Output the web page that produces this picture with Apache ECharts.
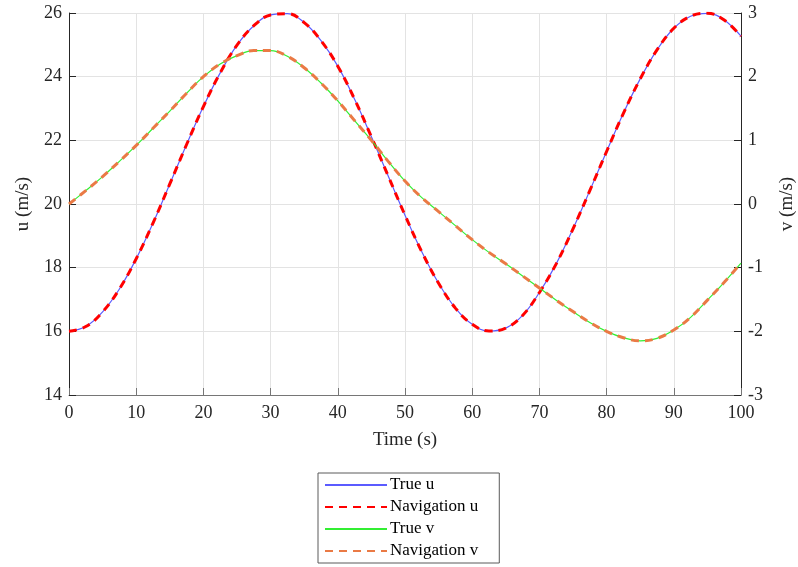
<!DOCTYPE html>
<html>
<head>
<meta charset="utf-8">
<script src="https://cdn.jsdelivr.net/npm/echarts@6/dist/echarts.min.js"></script>
<style>html,body{margin:0;padding:0;background:#fff;}#c{width:798px;height:567px;}</style>
</head>
<body>
<div id="c"></div>
<script>
// Time samples (s)
const time = [0,2.5,5,7.5,10,12.5,15,17.5,20,22.5,25,27.5,30,32.5,35,37.5,40,42.5,45,47.5,50,52.5,55,57.5,60,62.5,65,67.5,70,72.5,75,77.5,80,82.5,85,87.5,90,92.5,95,97.5,100];
// u (m/s)
const trueU = [16.00,16.15,16.61,17.33,18.28,19.40,20.63,21.87,23.06,24.12,24.99,25.60,25.94,25.98,25.70,25.13,24.33,23.29,22.11,20.88,19.65,18.50,17.51,16.73,16.22,16.01,16.10,16.50,17.22,18.12,19.22,20.42,21.65,22.85,23.93,24.84,25.52,25.90,25.99,25.78,25.27];
const navU = [16.00,16.15,16.61,17.33,18.28,19.40,20.63,21.87,23.06,24.12,24.99,25.60,25.94,25.98,25.70,25.13,24.33,23.29,22.11,20.88,19.65,18.50,17.51,16.73,16.22,16.01,16.10,16.50,17.22,18.12,19.22,20.42,21.65,22.85,23.93,24.84,25.52,25.90,25.99,25.78,25.27];
// v (m/s)
const trueV = [0.00,0.21,0.43,0.67,0.92,1.19,1.46,1.74,2.00,2.20,2.33,2.41,2.41,2.32,2.14,1.90,1.62,1.31,1.00,0.67,0.36,0.10,-0.12,-0.34,-0.56,-0.76,-0.94,-1.13,-1.32,-1.51,-1.69,-1.86,-2.00,-2.10,-2.15,-2.11,-1.98,-1.78,-1.51,-1.23,-0.93];
const navV = [0.00,0.21,0.43,0.67,0.92,1.19,1.46,1.74,2.00,2.20,2.33,2.41,2.41,2.32,2.14,1.90,1.62,1.31,1.00,0.67,0.36,0.10,-0.12,-0.34,-0.56,-0.76,-0.94,-1.13,-1.32,-1.51,-1.69,-1.86,-2.00,-2.10,-2.15,-2.11,-1.98,-1.78,-1.51,-1.23,-0.93];
const seriesNames = ['True u','Navigation u','True v','Navigation v'];

const pairs = (xs, ys) => xs.map((x, i) => [x, ys[i]]);
const font = 'Liberation Serif';
const tickColor = '#262626';

const chart = echarts.init(document.getElementById('c'), null, {renderer: 'canvas'});
chart.setOption({
  animation: false,
  backgroundColor: '#ffffff',
  grid: {left: 69, right: 57, top: 13, bottom: 172, containLabel: false, outerBoundsMode: 'none'},
  xAxis: {
    type: 'value', min: 0, max: 100, interval: 10,
    name: 'Time (s)', nameLocation: 'middle', nameGap: 36,
    nameTextStyle: {fontFamily: font, fontSize: 19, color: tickColor},
    axisLine: {show: true, onZero: false, lineStyle: {color: '#767676', width: 1}},
    axisTick: {show: true, inside: true, length: 7, lineStyle: {color: '#767676'}},
    axisLabel: {fontFamily: font, fontSize: 18, color: tickColor, margin: 9},
    splitLine: {show: true, lineStyle: {color: '#e3e3e3', width: 1}}
  },
  yAxis: [{
    type: 'value', position: 'left', min: 14, max: 26, interval: 2,
    name: 'u (m/s)', nameLocation: 'middle', nameGap: 36, nameRotate: 90,
    nameTextStyle: {fontFamily: font, fontSize: 19, color: tickColor},
    axisLine: {show: true, onZero: false, lineStyle: {color: '#262626', width: 1}},
    axisTick: {show: true, inside: true, length: 7, lineStyle: {color: '#262626'}},
    axisLabel: {fontFamily: font, fontSize: 18, color: tickColor, margin: 7},
    splitLine: {show: true, lineStyle: {color: '#e3e3e3', width: 1}}
  }, {
    type: 'value', position: 'right', min: -3, max: 3, interval: 1,
    name: 'v (m/s)', nameLocation: 'middle', nameGap: 37, nameRotate: 90,
    nameTextStyle: {fontFamily: font, fontSize: 19, color: tickColor},
    axisLine: {show: true, onZero: false, lineStyle: {color: '#262626', width: 1}},
    axisTick: {show: true, inside: true, length: 7, lineStyle: {color: '#262626'}},
    axisLabel: {fontFamily: font, fontSize: 18, color: tickColor, margin: 7},
    splitLine: {show: false}
  }],
  legend: {
    orient: 'vertical', left: 318, top: 473, height: 120,
    padding: [3, 21, 3, 6],
    itemWidth: 62, itemHeight: 14, itemGap: 4,
    borderColor: '#5a5a5a', borderWidth: 1, backgroundColor: '#ffffff',
    itemStyle: {opacity: 0},
    textStyle: {fontFamily: font, fontSize: 17, lineHeight: 18, color: '#000000', padding: [0, 0, 0, -2]},
    data: seriesNames
  },
  series: [
    {name: seriesNames[0], type: 'line', yAxisIndex: 0, data: pairs(time, trueU), smooth: 0.4, symbol: 'none',
     lineStyle: {color: '#5b5bff', width: 1.2}, itemStyle: {color: '#5b5bff'}},
    {name: seriesNames[1], type: 'line', yAxisIndex: 0, data: pairs(time, navU), smooth: 0.4, symbol: 'none',
     lineStyle: {color: '#ff0000', width: 3, type: [8, 6]}, itemStyle: {color: '#ff0000'}},
    {name: seriesNames[2], type: 'line', yAxisIndex: 1, data: pairs(time, trueV), smooth: 0.4, symbol: 'none',
     lineStyle: {color: '#33ee33', width: 1.2}, itemStyle: {color: '#33ee33'}},
    {name: seriesNames[3], type: 'line', yAxisIndex: 1, data: pairs(time, navV), smooth: 0.4, symbol: 'none',
     lineStyle: {color: '#ea7a45', width: 3, type: [8, 6]}, itemStyle: {color: '#ea7a45'}}
  ]
});
</script>
</body>
</html>
